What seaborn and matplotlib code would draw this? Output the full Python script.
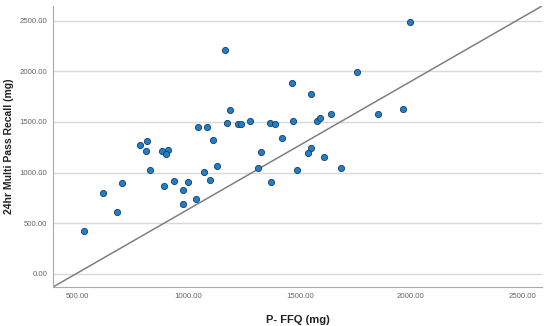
import pandas as pd
import matplotlib.pyplot as plt
import seaborn as sns

# --- data ---
ffq = [1165, 1185, 1172, 1043, 1082, 1112, 1221, 1236, 1276, 782,
       815, 809, 882, 906, 900, 1129, 1324, 1311, 1368, 1389,
       828, 1997, 1758, 1467, 1551, 1471, 1576, 1590, 1641, 1851,
       1963, 1420, 1552, 1536, 1609, 1487, 1684, 529, 616, 680,
       700, 888, 935, 977, 999, 977, 1032, 1071, 1095, 1371]
recall = [2214, 1620, 1489, 1446, 1452, 1321, 1482, 1479, 1508, 1275,
          1311, 1215, 1215, 1222, 1183, 1064, 1205, 1047, 1486, 1479,
          1025, 2484, 1993, 1884, 1772, 1506, 1509, 1538, 1581, 1575,
          1630, 1341, 1245, 1192, 1150, 1020, 1045, 419, 797, 609,
          893, 866, 916, 824, 903, 689, 741, 1005, 929, 909]

x_ticks = [500, 1000, 1500, 2000, 2500]
y_ticks = [0, 500, 1000, 1500, 2000, 2500]

# reference line end points
ref_x = [391, 2589]
ref_y = [-131, 2645]

df = pd.DataFrame({'P- FFQ (mg)': ffq, '24hr Multi Pass Recall (mg)': recall})

sns.set_style('white')
plt.rcParams['font.family'] = ['Liberation Sans', 'DejaVu Sans']

fig = plt.figure(figsize=(5.5, 3.26), dpi=100)
ax = fig.add_axes([0.0964, 0.1196, 0.8891, 0.862])

ax.plot(ref_x, ref_y, color='#7f7f7f', linewidth=1.1, zorder=2)
sns.scatterplot(data=df, x='P- FFQ (mg)', y='24hr Multi Pass Recall (mg)', ax=ax,
                color='#1c80cc', edgecolor='#1f3a5a', linewidth=0.6, s=20, zorder=3)

ax.set_xlim(391, 2589)
ax.set_ylim(-131, 2645)
ax.set_xticks(x_ticks)
ax.set_yticks(y_ticks)
ax.set_xticklabels([f'{v:.2f}' for v in x_ticks])
ax.set_yticklabels([f'{v:.2f}' for v in y_ticks])
ax.tick_params(length=0, labelsize=5.6, colors='#666666', pad=4)

ax.yaxis.grid(True, color='#d9d9d9', linewidth=1.0)
ax.set_axisbelow(True)
for side in ['top', 'right']:
    ax.spines[side].set_visible(False)
ax.spines['left'].set_color('#aaaaaa')
ax.spines['bottom'].set_color('#aaaaaa')

ax.set_xlabel('P- FFQ (mg)', fontsize=8, fontweight='bold', color='#222222', labelpad=11)
ax.set_ylabel('24hr Multi Pass Recall (mg)', fontsize=7.5, fontweight='bold', color='#222222', labelpad=4)

plt.savefig('out.png', dpi=100)
